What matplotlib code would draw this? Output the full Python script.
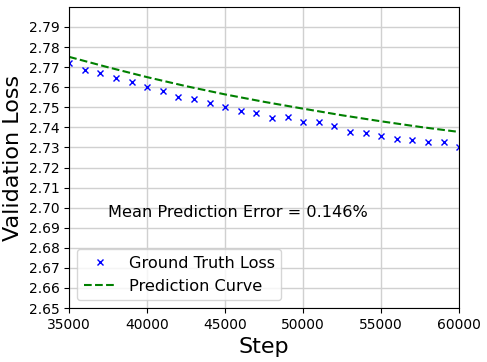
import matplotlib
matplotlib.use("Agg")
import matplotlib.pyplot as plt

steps = [35000, 36000, 37000, 38000, 39000, 40000, 41000, 42000, 43000,
         44000, 45000, 46000, 47000, 48000, 49000, 50000, 51000, 52000,
         53000, 54000, 55000, 56000, 57000, 58000, 59000, 60000]
gt_loss = [2.7722, 2.7688, 2.7670, 2.7647, 2.7624, 2.7599, 2.7580, 2.7552,
           2.7540, 2.7520, 2.7502, 2.7479, 2.7472, 2.7449, 2.7452, 2.7429,
           2.7428, 2.7408, 2.7375, 2.7373, 2.7357, 2.7342, 2.7337, 2.7327,
           2.7328, 2.7302]

pred_steps = [35000, 37500, 40000, 42500, 45000, 47500, 50000, 52500,
              55000, 57500, 60000]
pred_loss = [2.7751, 2.7699, 2.7650, 2.7605, 2.7564, 2.7527, 2.7493,
             2.7460, 2.7430, 2.7402, 2.7377]

yticks = [2.65 + 0.01 * i for i in range(15)]

fig, ax = plt.subplots(figsize=(4.87, 3.62), dpi=100)
ax.plot(steps, gt_loss, 'x', color='blue', markersize=4, label='Ground Truth Loss')
ax.plot(pred_steps, pred_loss, '--', color='green', linewidth=1.5, label='Prediction Curve')

ax.text(37500, 2.6974, 'Mean Prediction Error = 0.146%', fontsize=11.6, va='center')

ax.set_xlim(35000, 60000)
ax.set_ylim(2.65, 2.80)
ax.set_yticks(yticks)
ax.set_yticklabels([f'{v:.2f}' for v in yticks])
ax.grid(True, color='#d0d0d0', linewidth=1)
ax.set_axisbelow(True)
ax.tick_params(labelsize=10)
ax.set_xlabel('Step', fontsize=16)
ax.set_ylabel('Validation Loss', fontsize=16)
ax.legend(loc='lower left', fontsize=11.6)

fig.subplots_adjust(left=0.142, right=0.943, top=0.981, bottom=0.149)
fig.savefig('out.png')
